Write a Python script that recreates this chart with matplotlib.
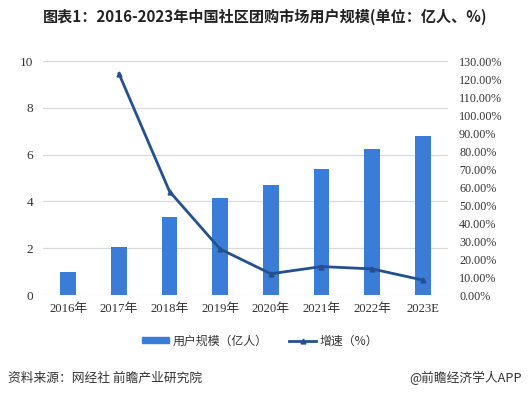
import matplotlib
matplotlib.use("Agg")
import matplotlib.pyplot as plt
from matplotlib.ticker import FuncFormatter, MultipleLocator
from matplotlib.patches import Rectangle
from matplotlib.lines import Line2D

plt.rcParams['font.family'] = ['Noto Sans CJK SC', 'DejaVu Sans']

categories = ["2016年", "2017年", "2018年", "2019年", "2020年", "2021年", "2022年", "2023E"]
users = [0.97, 2.05, 3.32, 4.13, 4.68, 5.38, 6.22, 6.78]          # 亿人
growth = [None, 123.0, 57.5, 25.5, 11.8, 15.8, 14.5, 8.3]          # %
bar_label = "用户规模（亿人）"
line_label = "增速（%）"
title = "图表1：2016-2023年中国社区团购市场用户规模(单位：亿人、%)"
source = "资料来源：网经社 前瞻产业研究院"
brand = "@前瞻经济学人APP"

W, H = 529, 395
fig = plt.figure(figsize=(W / 100, H / 100), dpi=100)
fig.patch.set_facecolor("white")

left, right, top, bottom = 43, 448, 61, 295
ax = fig.add_axes([left / W, 1 - bottom / H, (right - left) / W, (bottom - top) / H])
ax2 = ax.twinx()

bar_color = "#3A7DD9"
line_color = "#24508F"
x = list(range(len(categories)))

ax.bar(x, users, width=0.31, color=bar_color, zorder=2)
ax.set_xlim(-0.5, len(categories) - 0.5)
ax.set_ylim(0, 10)
ax.yaxis.set_major_locator(MultipleLocator(2))
ax.grid(axis="y", color="#D9D9D9", linewidth=0.9, zorder=0)
ax.set_axisbelow(True)
for s in ax.spines.values():
    s.set_visible(False)
for s in ax2.spines.values():
    s.set_visible(False)
ax.tick_params(axis="both", length=0, colors="#333333")
ax.tick_params(axis="y", pad=7, labelsize=9.5)
ax.tick_params(axis="x", pad=6)
ax.set_xticks(x)
ax.set_xticklabels(categories, family=['Liberation Serif', 'Noto Sans CJK SC'], fontsize=9.2)
for lab in ax.get_yticklabels():
    lab.set_family(['Liberation Serif'])

gx = [i for i, g in zip(x, growth) if g is not None]
gy = [g for g in growth if g is not None]
ax2.plot(gx, gy, color=line_color, linewidth=2.0, marker="^", markersize=3.5, zorder=3)
ax2.set_ylim(0, 130)
ax2.yaxis.set_major_locator(MultipleLocator(10))
ax2.yaxis.set_major_formatter(FuncFormatter(lambda v, p: f"{v:.2f}%"))
ax2.tick_params(axis="y", length=0, labelsize=8.7, colors="#333333", pad=8)
for lab in ax2.get_yticklabels():
    lab.set_family(['Liberation Serif'])

fig.text(0.5 + 1 / W, 1 - 17 / H, title, ha="center", va="center", fontsize=10.9,
         fontweight="bold", color="#222222")

# legend
handles = [Rectangle((0, 0), 1, 0.5, color=bar_color),
           Line2D([0], [0], color=line_color, linewidth=2.0, marker="^", markersize=3.5)]
fig.legend(handles, [bar_label, line_label], loc="center", bbox_to_anchor=(260 / W, 1 - 341 / H),
           ncol=2, frameon=False, fontsize=8.6, handlelength=2.3, handleheight=0.45,
           columnspacing=1.8, handletextpad=0.25, labelcolor="#333333")

fig.text(8 / W, 1 - 378 / H, source, ha="left", va="center", fontsize=9.2, color="#333333")
fig.text(522 / W, 1 - 378 / H, brand, ha="right", va="center", fontsize=9.2, color="#333333")

fig.savefig("out.png", dpi=100)
